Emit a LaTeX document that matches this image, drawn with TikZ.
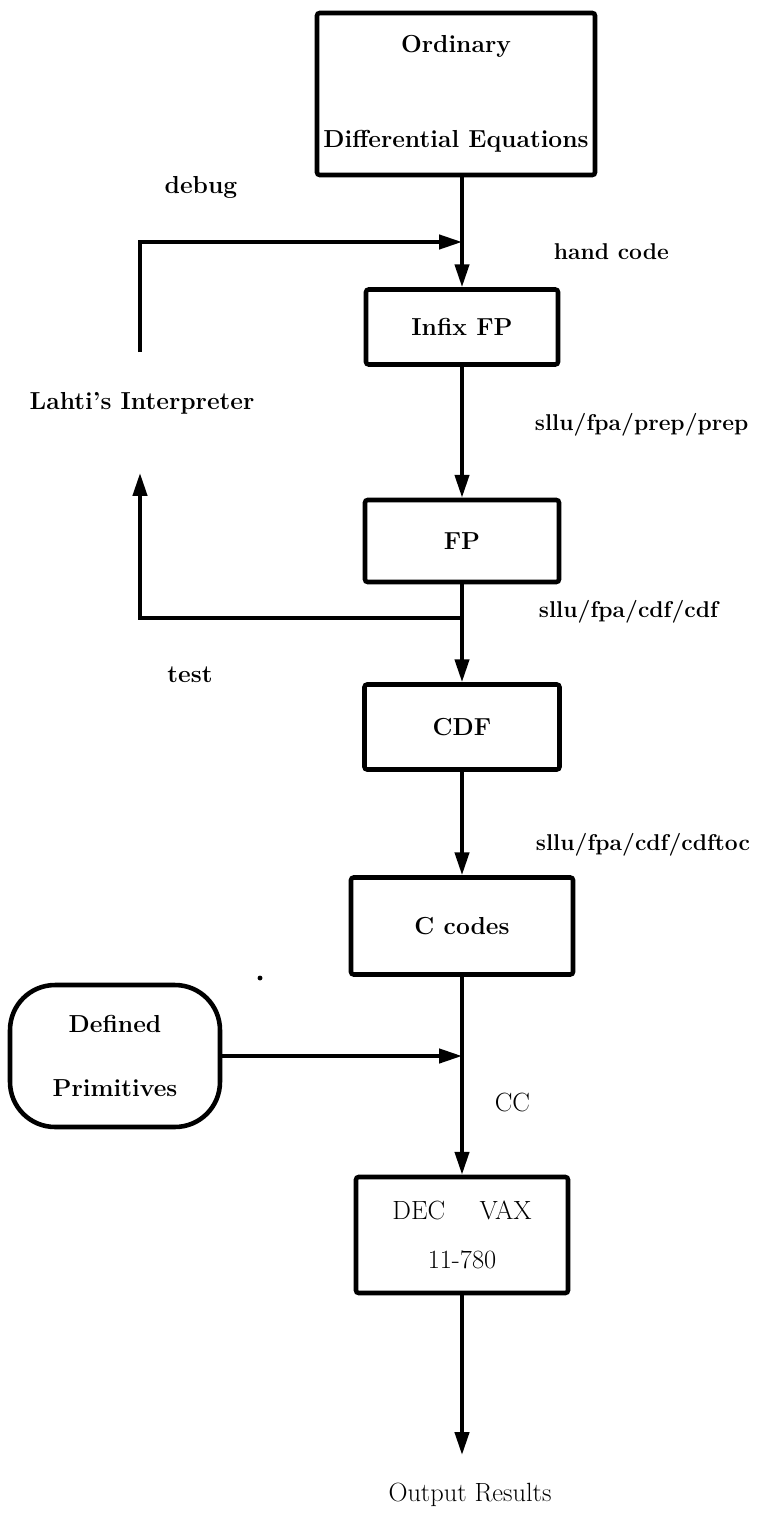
\documentclass[tikz,border=0pt]{standalone}
\usetikzlibrary{arrows.meta}
\begin{document}
\begin{tikzpicture}[x=0.02cm,y=-0.02cm,line width=2.2pt,
box/.style={draw,line width=2.6pt,rounded corners=1.5pt,align=center,inner sep=0pt},
flow/.style={-{Triangle[length=13pt,width=8pt]}},
bf/.style={font=\fontsize{14}{16.8}\selectfont\bfseries},
cmdlbl/.style={font=\fontsize{13}{15.6}\selectfont\bfseries,anchor=west,inner sep=0pt},
rm/.style={font=\fontsize{15}{18}\selectfont}]
\useasboundingbox (0,0) rectangle (765,1520);
\node[box,bf,minimum width=5.56cm,minimum height=3.24cm] (ode) at (456,94) {Ordinary\\[1.3cm]Differential Equations};
\node[box,bf,minimum width=3.84cm,minimum height=1.5cm] (infix) at (462,327) {Infix FP};
\node[box,bf,minimum width=3.88cm,minimum height=1.64cm] (fp) at (462,541) {FP};
\node[box,bf,minimum width=3.9cm,minimum height=1.7cm] (cdf) at (462,727) {CDF};
\node[box,bf,minimum width=4.44cm,minimum height=1.94cm] (ccodes) at (462,926) {C codes};
\node[box,rm,minimum width=4.24cm,minimum height=2.32cm] (dec) at (462,1235) {DEC\quad\ VAX\\[0.35cm]11-780};
\node[box,bf,rounded corners=0.9cm,minimum width=4.2cm,minimum height=2.84cm] (prim) at (115,1056) {Defined\\[0.7cm]Primitives};
\coordinate (dbgjoin) at (462,242);
\coordinate (dbgend) at (140,352);
\coordinate (tstjoin) at (462,618);
\coordinate (tstend) at (140,473);
\coordinate (primjoin) at (462,1056);
\coordinate (outend) at (462,1455);
\draw[flow] (ode.south -| dbgjoin) -- (infix.north -| dbgjoin);
\draw[flow] (infix) -- (fp);
\draw[flow] (fp) -- (cdf);
\draw[flow] (cdf) -- (ccodes);
\draw[flow] (ccodes) -- (dec);
\draw[flow] (dec) -- (outend);
\draw[flow] (dbgend) |- (dbgjoin);
\draw[flow] (tstjoin) -| (tstend);
\draw[flow] (prim) -- (primjoin);
\node[bf] (debug) at (201,187) {debug};
\node[bf] (lahti) at (142,403) {Lahti's Interpreter};
\node[bf] (test) at (190,675) {test};
\node[cmdlbl] (hand) at (552,252) {hand code};
\node[cmdlbl] (prep) at (533,425) {sllu/fpa/prep/prep};
\node[cmdlbl] (cdfl) at (537,612) {sllu/fpa/cdf/cdf};
\node[cmdlbl] (cdftoc) at (534,845) {sllu/fpa/cdf/cdftoc};
\node[rm,anchor=west] (cc) at (487,1102) {CC};
\node[rm] (output) at (470,1495) {Output Results};
\fill (260,978) circle (1.4pt);
\end{tikzpicture}
\end{document}
